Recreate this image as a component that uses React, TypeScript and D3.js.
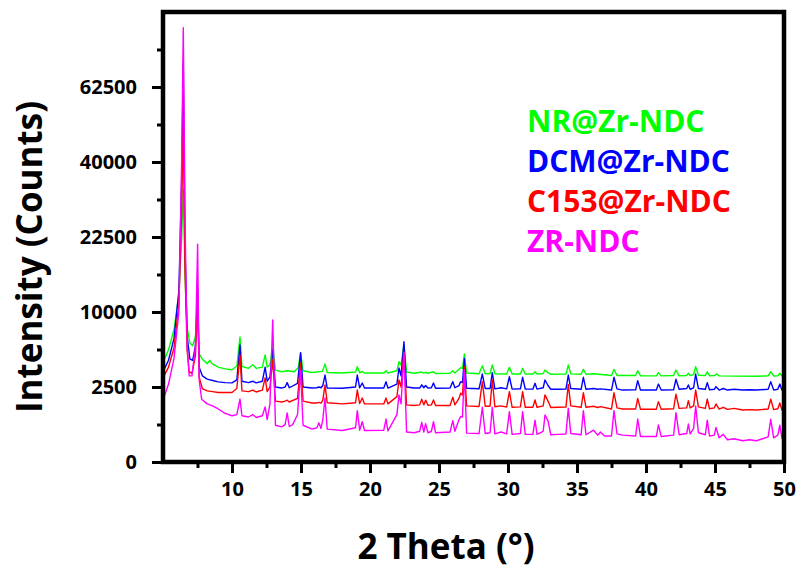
import React, { useEffect, useRef } from 'react';
import * as d3 from 'd3';

// 2 theta (deg), intensity (counts)
const nrZrNdc: [number, number][] = [
  [5.0, 4400], [5.4, 5600], [5.8, 7800], [6.15, 12500], [6.35, 22000], [6.47, 33000], [6.6, 15000], [6.75, 8000],
  [6.95, 6300], [7.15, 6000], [7.35, 7000], [7.51, 10500], [7.62, 5200], [7.85, 4700], [8.2, 4300], [8.4, 4600],
  [8.55, 4300], [9.0, 4000], [9.5, 3850], [10.0, 3780], [10.35, 4100], [10.58, 6950], [10.72, 4050], [11.2, 3900],
  [11.5, 4200], [11.75, 3900], [12.2, 4000], [12.4, 5100], [12.55, 4000], [12.75, 4200], [12.95, 6100], [13.15, 3750],
  [13.6, 3620], [14.0, 3700], [14.5, 3620], [14.8, 3950], [14.97, 5300], [15.15, 3700], [15.8, 3560], [16.55, 3650],
  [16.74, 4270], [16.9, 3560], [18.0, 3520], [18.95, 3600], [19.08, 4030], [19.25, 3540], [19.44, 3640], [19.6, 3520],
  [21.0, 3520], [21.16, 3700], [21.3, 3520], [21.95, 3700], [22.1, 4470], [22.25, 4200], [22.46, 6080], [22.65, 3600],
  [23.2, 3500], [23.75, 3600], [23.9, 3500], [24.03, 3580], [24.2, 3500], [24.6, 3620], [24.75, 3480], [25.8, 3500],
  [26.0, 3700], [26.15, 3520], [26.57, 3950], [26.7, 3900], [26.84, 5180], [27.0, 3520], [27.9, 3460], [28.14, 4120],
  [28.35, 3460], [28.7, 3480], [28.86, 4180], [29.05, 3460], [29.9, 3440], [30.1, 3980], [30.3, 3440], [30.9, 3440],
  [31.06, 3900], [31.25, 3440], [31.8, 3440], [31.96, 3620], [32.1, 3440], [32.55, 3480], [32.68, 3760], [32.9, 3550],
  [33.1, 3420], [34.2, 3430], [34.37, 4180], [34.55, 3450], [35.3, 3420], [35.46, 3820], [35.65, 3420], [36.2, 3460],
  [36.6, 3420], [37.5, 3330], [37.68, 3820], [37.9, 3330], [39.25, 3320], [39.4, 3700], [39.6, 3310], [40.75, 3300],
  [40.9, 3550], [41.1, 3300], [42.0, 3320], [42.17, 3760], [42.4, 3300], [42.95, 3330], [43.07, 3500], [43.2, 3320],
  [43.45, 3400], [43.6, 4030], [43.8, 3350], [44.3, 3330], [44.44, 3620], [44.6, 3310], [45.0, 3320], [45.1, 3450],
  [45.3, 3300], [46.5, 3280], [48.0, 3270], [48.85, 3300], [49.04, 3620], [49.25, 3290], [49.55, 3300], [49.7, 3500],
  [49.85, 3300], [50.0, 3300],
];

const dcmZrNdc: [number, number][] = [
  [5.0, 3600], [5.4, 4600], [5.8, 6800], [6.15, 13000], [6.35, 35000], [6.47, 71000], [6.6, 20000], [6.75, 7000],
  [6.95, 4700], [7.15, 4600], [7.35, 6000], [7.51, 13450], [7.62, 4000], [7.85, 3300], [8.2, 3050], [8.6, 2950],
  [9.0, 2850], [9.5, 2800], [10.0, 2780], [10.35, 3000], [10.58, 6100], [10.72, 2900], [11.2, 2800], [11.5, 2900],
  [11.75, 2780], [12.2, 2900], [12.4, 4000], [12.55, 2900], [12.75, 3200], [12.95, 5600], [13.15, 2500], [13.6, 2430],
  [13.85, 2500], [14.0, 2800], [14.15, 2450], [14.75, 2750], [14.97, 5300], [15.15, 2500], [15.8, 2430], [16.15, 2450],
  [16.3, 2500], [16.45, 2450], [16.58, 2600], [16.74, 3360], [16.9, 2430], [18.0, 2420], [18.95, 2500], [19.08, 3360],
  [19.25, 2450], [19.44, 2770], [19.6, 2430], [21.0, 2430], [21.16, 2870], [21.3, 2430], [21.95, 2700], [22.1, 3930],
  [22.25, 3300], [22.46, 6430], [22.65, 2500], [23.2, 2430], [23.6, 2430], [23.75, 2650], [23.9, 2450], [24.03, 2600],
  [24.2, 2430], [24.45, 2450], [24.6, 2770], [24.75, 2420], [25.8, 2430], [26.0, 2870], [26.15, 2450], [26.45, 2600],
  [26.57, 2870], [26.7, 2800], [26.84, 4770], [27.0, 2420], [27.9, 2380], [28.14, 3440], [28.35, 2400], [28.7, 2400],
  [28.86, 3550], [29.05, 2380], [29.5, 2450], [29.9, 2380], [30.1, 3230], [30.3, 2360], [30.9, 2380], [31.06, 3190],
  [31.25, 2370], [31.8, 2360], [31.96, 2750], [32.1, 2360], [32.55, 2450], [32.68, 2990], [32.9, 2600], [33.1, 2350],
  [33.6, 2350], [34.2, 2360], [34.37, 3360], [34.55, 2400], [35.3, 2350], [35.46, 3190], [35.65, 2350], [36.2, 2400],
  [36.5, 2350], [36.7, 2380], [37.5, 2300], [37.68, 3190], [37.9, 2380], [38.3, 2300], [39.25, 2320], [39.4, 2940],
  [39.6, 2300], [40.75, 2300], [40.9, 2700], [41.1, 2300], [42.0, 2320], [42.17, 3040], [42.4, 2350], [42.95, 2400],
  [43.07, 2640], [43.2, 2350], [43.45, 2450], [43.6, 3440], [43.8, 2400], [44.3, 2350], [44.44, 2800], [44.6, 2320],
  [44.95, 2350], [45.07, 2520], [45.3, 2300], [45.6, 2400], [45.9, 2300], [46.4, 2350], [47.0, 2300], [47.5, 2320],
  [48.0, 2300], [48.85, 2350], [49.04, 2870], [49.25, 2300], [49.55, 2350], [49.7, 2700], [49.85, 2300], [50.0, 2320],
];

const c153ZrNdc: [number, number][] = [
  [5.0, 3150], [5.4, 4000], [5.8, 5800], [6.15, 11000], [6.35, 28000], [6.47, 53000], [6.6, 16000], [6.75, 5500],
  [6.9, 3600], [7.1, 3500], [7.35, 5000], [7.51, 12000], [7.62, 3200], [7.85, 2400], [8.2, 2250], [8.6, 2200],
  [9.0, 2150], [9.5, 2150], [10.0, 2150], [10.35, 2400], [10.58, 5100], [10.72, 2250], [11.2, 2200], [11.5, 2300],
  [11.75, 2180], [12.2, 2300], [12.4, 3150], [12.55, 2200], [12.75, 2500], [12.95, 4650], [13.15, 1650], [13.6, 1600],
  [13.85, 1650], [14.0, 1700], [14.15, 1600], [14.75, 1800], [14.97, 4350], [15.15, 1650], [15.8, 1550], [16.15, 1550],
  [16.3, 1580], [16.45, 1540], [16.58, 1700], [16.74, 2640], [16.9, 1560], [18.0, 1500], [18.95, 1560], [19.08, 2300],
  [19.25, 1520], [19.44, 1820], [19.6, 1500], [21.0, 1500], [21.16, 1820], [21.3, 1500], [21.95, 1900], [22.1, 2990],
  [22.25, 2500], [22.46, 5400], [22.65, 1450], [23.2, 1420], [23.6, 1450], [23.75, 1750], [23.9, 1450], [24.03, 1700],
  [24.2, 1430], [24.45, 1450], [24.6, 1710], [24.75, 1420], [25.8, 1420], [26.0, 1860], [26.15, 1450], [26.45, 1800],
  [26.57, 2100], [26.7, 2000], [26.84, 4030], [27.0, 1400], [27.9, 1370], [28.14, 2870], [28.35, 1380], [28.7, 1380],
  [28.86, 2990], [29.05, 1360], [29.5, 1400], [29.9, 1340], [30.1, 2200], [30.3, 1330], [30.9, 1350], [31.06, 2200],
  [31.25, 1330], [31.8, 1330], [31.96, 1710], [32.1, 1330], [32.55, 1400], [32.68, 2000], [32.9, 1650], [33.1, 1320],
  [33.6, 1330], [34.2, 1340], [34.37, 2680], [34.55, 1400], [35.3, 1330], [35.46, 2130], [35.65, 1330], [36.2, 1380],
  [36.5, 1320], [36.7, 1360], [37.5, 1250], [37.68, 2130], [37.9, 1300], [38.3, 1250], [39.25, 1250], [39.4, 1800],
  [39.6, 1240], [40.75, 1240], [40.9, 1620], [41.1, 1240], [42.0, 1260], [42.17, 2050], [42.4, 1280], [42.95, 1300],
  [43.07, 1670], [43.2, 1300], [43.45, 1400], [43.6, 2300], [43.8, 1350], [44.3, 1280], [44.44, 1760], [44.6, 1260],
  [44.95, 1300], [45.07, 1500], [45.3, 1240], [45.6, 1330], [45.9, 1230], [46.4, 1280], [47.0, 1200], [47.5, 1220],
  [48.0, 1200], [48.85, 1250], [49.04, 1750], [49.25, 1220], [49.55, 1260], [49.7, 1550], [49.85, 1200], [50.0, 1250],
];

const zrNdc: [number, number][] = [
  [5.0, 1700], [5.4, 2700], [5.8, 4800], [6.15, 10000], [6.35, 40000], [6.47, 83800], [6.6, 25000], [6.75, 6000],
  [6.9, 3300], [7.1, 3300], [7.35, 6000], [7.51, 21100], [7.62, 3000], [7.8, 1750], [8.2, 1500], [8.6, 1400],
  [9.0, 1250], [9.5, 1050], [10.0, 950], [10.35, 1000], [10.58, 1760], [10.72, 950], [11.2, 900], [11.5, 1000],
  [11.75, 880], [12.2, 950], [12.4, 1350], [12.55, 800], [12.75, 1500], [12.95, 8960], [13.15, 600], [13.6, 550],
  [13.85, 620], [14.0, 1070], [14.15, 560], [14.4, 620], [14.75, 1000], [14.97, 3700], [15.15, 600], [15.8, 480],
  [16.15, 520], [16.3, 680], [16.45, 500], [16.58, 800], [16.74, 1820], [16.9, 480], [18.0, 440], [18.95, 520],
  [19.08, 1170], [19.25, 450], [19.44, 720], [19.6, 440], [21.0, 450], [21.16, 820], [21.3, 430], [21.95, 1000],
  [22.1, 2000], [22.25, 1500], [22.46, 5280], [22.65, 400], [23.2, 380], [23.6, 420], [23.75, 700], [23.9, 400],
  [24.03, 650], [24.2, 380], [24.45, 420], [24.6, 720], [24.75, 380], [25.8, 400], [26.0, 760], [26.15, 420],
  [26.45, 800], [26.57, 920], [26.7, 900], [26.84, 3760], [27.0, 370], [27.9, 360], [28.14, 1330], [28.35, 360],
  [28.7, 380], [28.86, 1330], [29.05, 350], [29.5, 400], [29.9, 350], [30.1, 1125], [30.3, 340], [30.9, 360],
  [31.06, 1125], [31.25, 340], [31.8, 340], [31.96, 780], [32.1, 340], [32.55, 420], [32.68, 980], [32.9, 750],
  [33.1, 330], [33.6, 340], [34.2, 350], [34.37, 1280], [34.55, 360], [35.3, 330], [35.46, 1170], [35.65, 330],
  [36.2, 450], [36.5, 320], [36.7, 400], [37.0, 300], [37.5, 300], [37.68, 1170], [37.9, 350], [38.3, 320],
  [39.25, 300], [39.4, 820], [39.6, 290], [40.75, 290], [40.9, 610], [41.1, 290], [42.0, 320], [42.17, 1080],
  [42.4, 330], [42.95, 360], [43.07, 640], [43.2, 350], [43.45, 500], [43.6, 1390], [43.8, 380], [44.3, 330],
  [44.44, 780], [44.6, 300], [44.95, 320], [45.07, 530], [45.3, 260], [45.6, 340], [45.9, 220], [46.4, 240],
  [47.0, 200], [47.5, 220], [48.0, 200], [48.85, 280], [49.04, 810], [49.25, 260], [49.55, 320], [49.7, 600],
  [49.85, 250], [50.0, 300],
];

const seriesNames = ['NR@Zr-NDC', 'DCM@Zr-NDC', 'C153@Zr-NDC', 'ZR-NDC'];
const seriesColors = ['#00ff00', '#0000ff', '#ff0000', '#ff00ff'];
const seriesData = [nrZrNdc, dcmZrNdc, c153ZrNdc, zrNdc];

const xTicks = [10, 15, 20, 25, 30, 35, 40, 45, 50];
const xMinorTicks = [7.5, 12.5, 17.5, 22.5, 27.5, 32.5, 37.5, 42.5, 47.5];
const yTicks = [0, 2500, 10000, 22500, 40000, 62500];
const yMinorTicks = [625, 5625, 15625, 30625, 50625, 75625];

const FONT = '"Open Sans", "DejaVu Sans", sans-serif';

export default function App() {
  const ref = useRef<SVGSVGElement>(null);

  useEffect(() => {
    const width = 798, height = 569;
    const margin = { top: 12, right: 14, bottom: 107, left: 163 };

    const svg = d3.select(ref.current);
    svg.selectAll('*').remove();

    const x = d3.scaleLinear().domain([5, 50]).range([margin.left, width - margin.right]);
    const y = d3.scaleSqrt().domain([0, 90000]).range([height - margin.bottom, margin.top]);

    svg.append('defs').append('clipPath').attr('id', 'plot-clip')
      .append('rect')
      .attr('x', x(5)).attr('y', y(90000))
      .attr('width', x(50) - x(5)).attr('height', y(0) - y(90000));

    const line = d3.line<[number, number]>()
      .x(d => x(d[0]))
      .y(d => y(d[1]));

    const plot = svg.append('g').attr('clip-path', 'url(#plot-clip)');
    seriesData.forEach((data, i) => {
      plot.append('path')
        .datum(data)
        .attr('fill', 'none')
        .attr('stroke', seriesColors[i])
        .attr('stroke-width', 1.4)
        .attr('stroke-linejoin', 'round')
        .attr('d', line);
    });

    // frame
    svg.append('rect')
      .attr('x', x(5)).attr('y', y(90000))
      .attr('width', x(50) - x(5)).attr('height', y(0) - y(90000))
      .attr('fill', 'none').attr('stroke', '#000').attr('stroke-width', 4.5);

    // bottom axis
    const xAxis = svg.append('g').attr('transform', `translate(0,${y(0)})`);
    xAxis.call(d3.axisBottom(x).tickValues(xTicks).tickSize(11).tickPadding(9).tickFormat(d3.format('d')));
    xAxis.append('g').call(d3.axisBottom(x).tickValues(xMinorTicks).tickSize(6).tickFormat(() => ''));
    xAxis.selectAll('.domain').remove();
    xAxis.selectAll('line').attr('stroke', '#000').attr('stroke-width', 3);
    xAxis.selectAll('text')
      .attr('font-family', FONT).attr('font-weight', 700).attr('font-size', 20).attr('fill', '#000');

    // left axis
    const yAxis = svg.append('g').attr('transform', `translate(${x(5)},0)`);
    yAxis.call(d3.axisLeft(y).tickValues(yTicks).tickSize(11).tickPadding(15).tickFormat(d3.format('d')));
    yAxis.append('g').call(d3.axisLeft(y).tickValues(yMinorTicks).tickSize(6).tickFormat(() => ''));
    yAxis.selectAll('.domain').remove();
    yAxis.selectAll('line').attr('stroke', '#000').attr('stroke-width', 3);
    yAxis.selectAll('text')
      .attr('font-family', FONT).attr('font-weight', 700).attr('font-size', 20).attr('fill', '#000');

    // axis titles
    svg.append('text')
      .attr('transform', `translate(42,${(y(0) + y(90000)) / 2 + 20}) rotate(-90)`)
      .attr('text-anchor', 'middle')
      .attr('font-family', FONT).attr('font-weight', 700).attr('font-size', 35)
      .text('Intensity (Counts)');

    svg.append('text')
      .attr('x', 446).attr('y', 559)
      .attr('text-anchor', 'middle')
      .attr('font-family', FONT).attr('font-weight', 700).attr('font-size', 35)
      .text('2 Theta (°)');

    // legend
    seriesNames.forEach((name, i) => {
      svg.append('text')
        .attr('x', 527).attr('y', 132 + i * 40)
        .attr('font-family', FONT).attr('font-weight', 700).attr('font-size', 30)
        .attr('fill', seriesColors[i])
        .text(name);
    });
  }, []);

  return (
    <svg ref={ref} width={798} height={569}
      style={{ position: 'absolute', left: 0, top: 0, background: '#fff' }} />
  );
}
